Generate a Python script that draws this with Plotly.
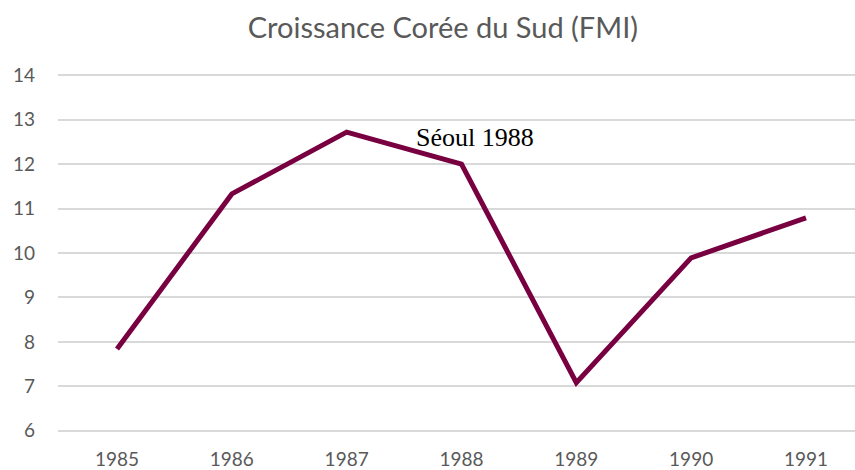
import plotly.graph_objects as go

years = [1985, 1986, 1987, 1988, 1989, 1990, 1991]
growth = [7.84, 11.33, 12.72, 12.0, 7.08, 9.89, 10.79]

fig = go.Figure()
fig.add_trace(go.Scatter(
    x=years,
    y=growth,
    mode="lines",
    line=dict(color="#780041", width=5),
    hoverinfo="x+y",
))

fig.add_annotation(
    x=1987.59, y=12.6, text="Séoul 1988", showarrow=False,
    xanchor="left", yanchor="middle",
    font=dict(family="Liberation Serif", size=26, color="black"),
)

fig.update_layout(
    width=855, height=470,
    margin=dict(l=58, r=0, t=73, b=37),
    paper_bgcolor="white", plot_bgcolor="white",
    showlegend=False,
    font=dict(family="Lato", size=19, color="#595959"),
    title=dict(text="Croissance Corée du Sud (FMI)", x=0.518, xanchor="center",
               y=0.94, yanchor="middle",
               font=dict(family="Lato", size=29, color="#595959")),
)
fig.update_xaxes(
    range=[1984.486, 1991.427], tickvals=years, ticktext=[str(y) for y in years],
    showgrid=False, zeroline=False, showline=False, ticks="",
    ticklabelstandoff=13, automargin=False,
)
# small padding so the 6 and 14 gridlines are not dropped at the edges
fig.update_yaxes(
    range=[5.95, 14.05], dtick=1, showgrid=True, gridcolor="#d9d9d9", gridwidth=1.5,
    zeroline=False, showline=False, ticks="", ticklabelstandoff=22, automargin=False,
)

# page body has a default 8px margin; remove it so the chart fills the window
fig.write_html("out.html", config={"displayModeBar": False},
               post_script="document.body.style.margin='0';")
